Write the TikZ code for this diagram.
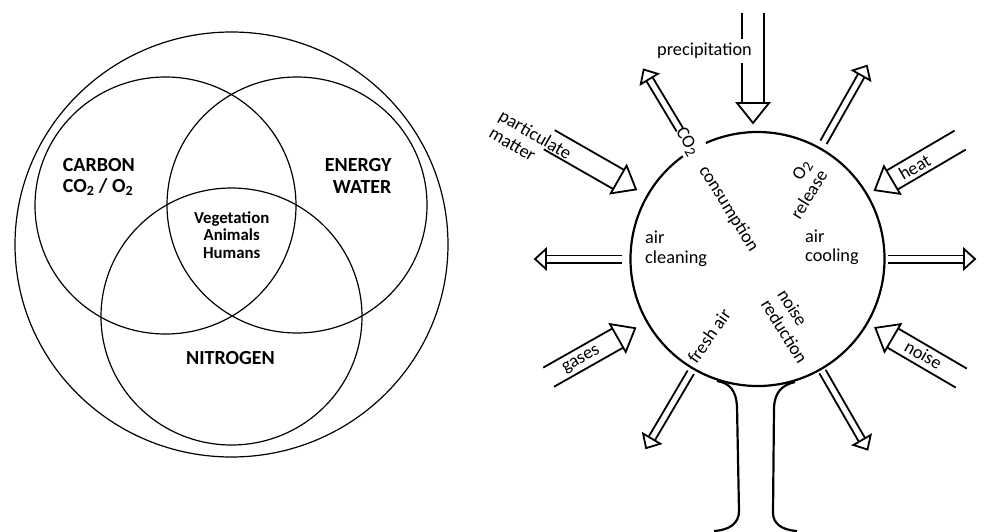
\documentclass[tikz,border=0pt]{standalone}
\usepackage{fontspec}
\setmainfont{Carlito}
\newcommand\lowtwo{\raisebox{-0.32ex}{\fontsize{15}{15}\selectfont 2}}
\tikzset{
  venn/.style={line width=1.2pt},
  big/.style={font=\fontsize{20}{21.5}\selectfont\bfseries, inner sep=0pt},
  mid/.style={font=\fontsize{16.8}{17.2}\selectfont\bfseries, inner sep=0pt},
  lab/.style={font=\fontsize{18.3}{19.5}\selectfont, inner sep=0pt},
  arr/.style={line width=1.8pt},
  ring/.style={line width=2.2pt},
}
\newcommand\thinarr[3]{%
  \begin{scope}[shift={(#1:#2)}, rotate=#1]
    \draw[arr] (0,3.6) -- ({#3-#2-11},3.6) (0,-3.6) -- ({#3-#2-11},-3.6);
    \draw[arr,line join=miter] ({#3-#2-11},10) -- ({#3-#2},0) -- ({#3-#2-11},-10) -- cycle;
  \end{scope}}
\newcommand\thickarr[3]{%
  \begin{scope}[shift={(#1:#2)}, rotate={#1+180}]
    \draw[arr] (0,11) -- ({#2-#3-20},11) (0,-11) -- ({#2-#3-20},-11);
    \draw[arr,line join=miter] ({#2-#3-20},16) -- ({#2-#3},0) -- ({#2-#3-20},-16) -- cycle;
  \end{scope}}
\begin{document}
\begin{tikzpicture}[x=1pt,y=1pt]
\fill[white] (0,0) rectangle (984,531);
\useasboundingbox (0,0) rectangle (984,531);
% ---------- Venn diagram ----------
\draw[venn] (231.5,286.5) ellipse [x radius=216.5, y radius=212.5];
\draw[venn] (165.5,325.5) ellipse [x radius=130.5, y radius=128.5];
\draw[venn] (297,326) ellipse [x radius=130, y radius=128];
\draw[venn] (231.5,214.5) ellipse [x radius=130.5, y radius=128.5];
\node[big, align=left, anchor=west] (carbon) at (62.7,354) {CARBON\\CO\textsubscript{2} / O\textsubscript{2}};
\node[big, align=right, anchor=east] (energy) at (391.7,355) {ENERGY\\WATER};
\node[mid, align=center] (life) at (231.7,296) {Vegetation\\Animals\\Humans};
\node[big] (nitrogen) at (230.5,172.5) {NITROGEN};
% ---------- tree ----------
\begin{scope}[shift={(757.5,272)}]
  \draw[ring] (126:127) arc[start angle=126, end angle=474, radius=127];
  \thinarr{0}{130}{217.5}
  \thinarr{60.5}{134}{222}
  \thinarr{121}{151}{221}
  \thinarr{180}{136}{222.5}
  \thinarr{239.5}{131.5}{219.5}
  \thinarr{300}{130}{220}
  \thickarr{30.4}{235}{136}
  \thickarr{150.2}{240}{140}
  \thickarr{209.5}{240}{140.5}
  \thickarr{329.7}{236}{136.5}
  \begin{scope}[shift={(-4.5,0)}]
    \thickarr{90}{246}{136}
  \end{scope}
  \node[lab, rotate=-60] (co2) at (121:137) {CO\lowtwo};
  \node[lab, rotate=-58] (consumption) at (120:58) {consumption};
  \node[lab, rotate=58, align=right] (release) at (58.2:82) {O\lowtwo\\release};
  \node[lab, rotate=-58, align=left] (noisered) at (-62.3:76) {noise\\reduction};
  \node[lab, rotate=55] (fresh) at (237.8:91) {fresh air};
  \node[lab, align=left, anchor=west] (cleaning) at (-112.5,10) {air\\cleaning};
  \node[lab, align=left, anchor=west] (cooling) at (47.5,11.5) {air\\cooling};
  \node[lab, rotate=30] (heat) at (30.3:182) {heat};
  \node[lab, rotate=30] (gases) at (209.9:203) {gases};
  \node[lab, rotate=-30] (noise) at (330:191.6) {noise};
  \node[lab, rotate=-30, align=left] (particulate) at (152.9:255) {particulate\\matter};
  \node[lab, fill=white, inner sep=4pt] (precip) at (-53,208) {precipitation};
\end{scope}
\draw[ring] (717,150) .. controls (730,148) and (736,140) .. (737,125) -- (739,20) .. controls (739,8) and (730,1) .. (714,0);
\draw[ring] (795,149) .. controls (782,146) and (775,139) .. (774,124) -- (773,18) .. controls (773,8) and (781,1) .. (797,0);
\end{tikzpicture}
\end{document}
